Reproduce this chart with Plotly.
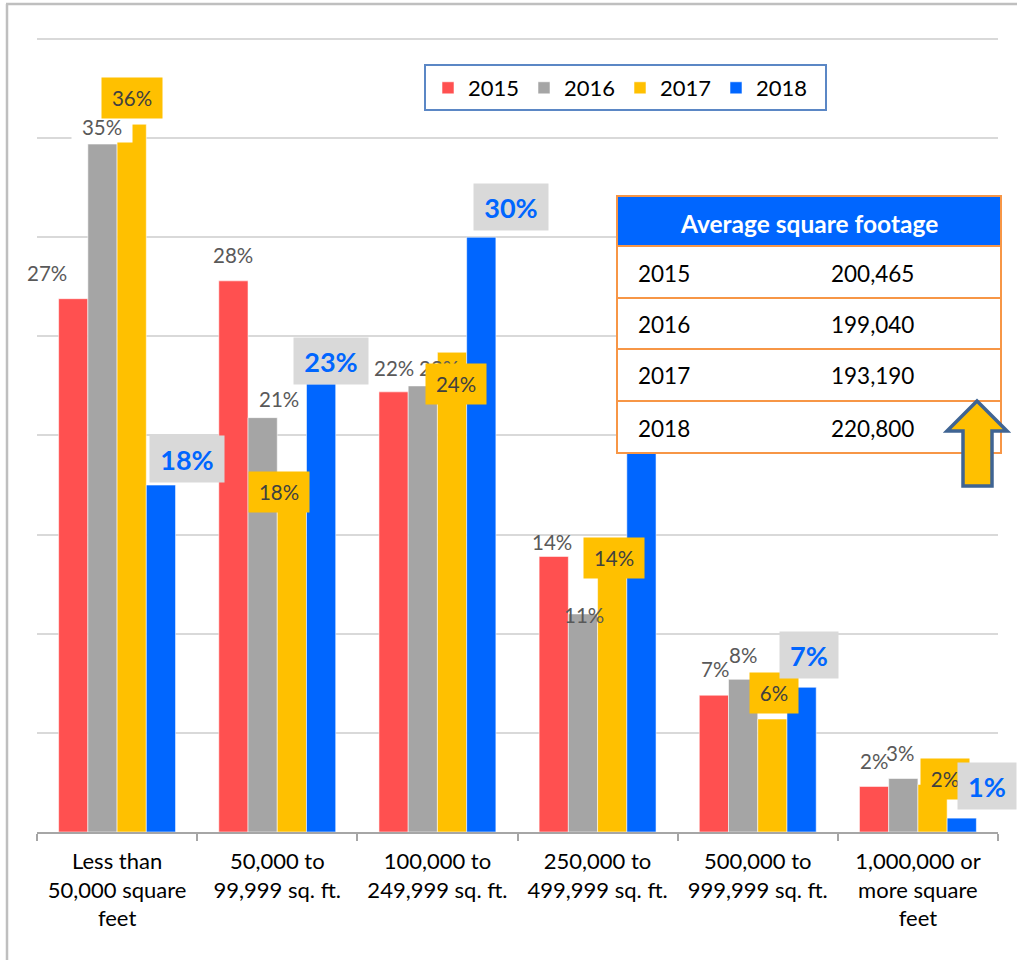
import plotly.graph_objects as go

# ---------------- data ----------------
categories = [
    "Less than<br>50,000 square<br>feet",
    "50,000 to<br>99,999 sq. ft.",
    "100,000 to<br>249,999 sq. ft.",
    "250,000 to<br>499,999 sq. ft.",
    "500,000 to<br>999,999 sq. ft.",
    "1,000,000 or<br>more square<br>feet",
]
years = ["2015", "2016", "2017", "2018"]
v2015 = [26.9, 27.8, 22.2, 13.9, 6.9, 2.3]
v2016 = [34.7, 20.9, 22.5, 11.0, 7.7, 2.7]
v2017 = [35.7, 17.9, 24.2, 14.0, 5.7, 2.4]
v2018 = [17.5, 22.6, 30.0, 21.5, 7.3, 0.7]
l2015 = ["27%", "28%", "22%", "14%", "7%", "2%"]
l2016 = ["35%", "21%", "22%", "11%", "8%", "3%"]
l2017 = ["36%", "18%", "24%", "14%", "6%", "2%"]
l2018 = ["18%", "23%", "30%", "22%", "7%", "1%"]

table_title = "Average square footage"
table_years = ["2015", "2016", "2017", "2018"]
table_values = ["200,465", "199,040", "193,190", "220,800"]

# ---------------- styles ----------------
FONT = "Lato, 'Open Sans', sans-serif"
colors = ["#FF5050", "#A5A5A5", "#FFC000", "#0066FF"]
W_FIG, H_FIG = 1017, 960
Y_MAX = 40.15
ML, MR, MT, MB = 37, 19, 36, 128
PW = W_FIG - ML - MR
PH = H_FIG - MT - MB


def X(px):
    return (px - ML) / PW


def Y(py):
    return (H_FIG - MB - py) / PH


series_vals = [v2015, v2016, v2017, v2018]
series_labels = [l2015, l2016, l2017, l2018]

fig = go.Figure()
for name, vals, col in zip(years, series_vals, colors):
    fig.add_trace(go.Bar(
        x=categories, y=vals, name=name,
        marker=dict(color=col, line=dict(color="rgba(255,255,255,0.55)", width=1)),
        hoverinfo="skip",
    ))

# label placement (pixel shifts from bar center / bar top); None = hidden behind table
bar_off = [-43.8, -14.6, 14.6, 43.8]
offsets = [
    [(-26.5, 26), (0, 26), (0, 24), (-2, 14), (1.5, 26), (0, 25)],
    [(0, 17), (16, 19), (16, 18), (1.5, -1), (0, 24), (-3.5, 25)],
    [(0, 26), (-12.5, -15), (3.5, -32), (1.5, -3.5), (1.5, 26), (12.5, 5)],
    [(26.5, 26), (9.5, 23), (29.5, 30), None, (7.5, 32), (25, 32)],
]

annotations = []
for s in range(4):
    for i, cat in enumerate(categories):
        off = offsets[s][i]
        if off is None:
            continue
        txt = series_labels[s][i]
        a = dict(x=cat, y=series_vals[s][i], xref="x", yref="y",
                 xshift=bar_off[s] + off[0], yshift=off[1],
                 xanchor="center", yanchor="middle", showarrow=False,
                 text=txt)
        if s == 0:
            a["font"] = dict(family=FONT, size=20.5, color="#595959")
        elif s == 1:
            a["font"] = dict(family=FONT, size=20.5, color="#595959")
            if i == 0:
                a.update(bgcolor="white", width=58, height=28)
        elif s == 2:
            a["font"] = dict(family=FONT, size=20.5, color="#404040")
            a.update(bgcolor="#FFC000", width=58 if len(txt) > 2 else 46, height=38)
        else:
            a["text"] = "<b>" + txt + "</b>"
            a["font"] = dict(family=FONT, size=27, color="#0066FF")
            a.update(bgcolor="#D9D9D9", width=72 if len(txt) > 2 else 56, height=44)
        annotations.append(a)

shapes = []
# outer frame (left and top edges)
shapes.append(dict(type="line", xref="paper", yref="paper", x0=X(7), x1=X(7), y0=Y(4), y1=Y(960),
                   line=dict(color="#BFBFBF", width=2.5)))
shapes.append(dict(type="line", xref="paper", yref="paper", x0=X(6), x1=X(1017), y0=Y(4), y1=Y(4),
                   line=dict(color="#BFBFBF", width=2.5)))
# legend border
shapes.append(dict(type="rect", xref="paper", yref="paper", x0=X(425), x1=X(826), y0=Y(65), y1=Y(110),
                   line=dict(color="#5B87C5", width=2), fillcolor="rgba(0,0,0,0)"))

# table
tx0, tx1 = 617, 1001
row_edges = [196, 246, 298, 349, 401, 453]
ORANGE = "#F79646"
shapes.append(dict(type="rect", xref="paper", yref="paper", layer="above",
                   x0=X(tx0), x1=X(tx1), y0=Y(row_edges[0]), y1=Y(row_edges[1]),
                   fillcolor="#0066FF", line=dict(color=ORANGE, width=2)))
for r in range(4):
    shapes.append(dict(type="rect", xref="paper", yref="paper", layer="above",
                       x0=X(tx0), x1=X(tx1), y0=Y(row_edges[r + 1]), y1=Y(row_edges[r + 2]),
                       fillcolor="white", line=dict(color=ORANGE, width=2)))
annotations.append(dict(xref="paper", yref="paper", x=X((tx0 + tx1) / 2), y=Y(223),
                        text="<b>" + table_title + "</b>", showarrow=False,
                        xanchor="center", yanchor="middle",
                        font=dict(family=FONT, size=24.5, color="white")))
for r in range(4):
    cy = (row_edges[r + 1] + row_edges[r + 2]) / 2 + 1
    annotations.append(dict(xref="paper", yref="paper", x=X(636), y=Y(cy), text=table_years[r],
                            showarrow=False, xanchor="left", yanchor="middle",
                            font=dict(family=FONT, size=22.5, color="black")))
    annotations.append(dict(xref="paper", yref="paper", x=X(829), y=Y(cy), text=table_values[r],
                            showarrow=False, xanchor="left", yanchor="middle",
                            font=dict(family=FONT, size=22.5, color="black")))

# up arrow
pts = [(977, 401), (1007, 431), (992, 431), (992, 486), (963, 486), (963, 431), (947, 431)]
path = "M " + " L ".join(f"{X(px):.5f},{Y(py):.5f}" for px, py in pts) + " Z"
shapes.append(dict(type="path", xref="paper", yref="paper", layer="above", path=path,
                   fillcolor="#FFC000", line=dict(color="#3F6493", width=3.5)))

fig.update_layout(
    width=W_FIG, height=H_FIG,
    margin=dict(l=ML, r=MR, t=MT, b=MB, pad=0),
    paper_bgcolor="white", plot_bgcolor="white",
    barmode="group", bargap=0.27, bargroupgap=0,
    font=dict(family=FONT, size=22, color="black"),
    showlegend=True,
    legend=dict(orientation="h", x=X(428), xanchor="left", y=Y(88), yanchor="middle",
                font=dict(family=FONT, size=22, color="black"),
                bgcolor="rgba(0,0,0,0)", borderwidth=0,
                entrywidthmode="pixels", entrywidth=51, traceorder="normal"),
    xaxis=dict(type="category", range=[-0.5, len(categories) - 0.5], autorange=False,
               showgrid=False, showline=True, linecolor="#A6A6A6", linewidth=1.5,
               ticks="outside", tickson="boundaries", ticklen=7, tickcolor="#A6A6A6", tickwidth=1.5,
               ticklabelstandoff=9,
               tickfont=dict(family=FONT, size=22, color="black"), fixedrange=True),
    yaxis=dict(range=[0, Y_MAX], autorange=False, tick0=0, dtick=5, showgrid=True,
               gridcolor="#D9D9D9", gridwidth=1.5,
               showticklabels=False, zeroline=False, showline=False, ticks="", fixedrange=True),
    shapes=shapes,
    annotations=annotations,
)

fig.write_html("out.html", config={"displayModeBar": False},
               post_script="document.body.style.margin='0';document.body.style.padding='0';")
